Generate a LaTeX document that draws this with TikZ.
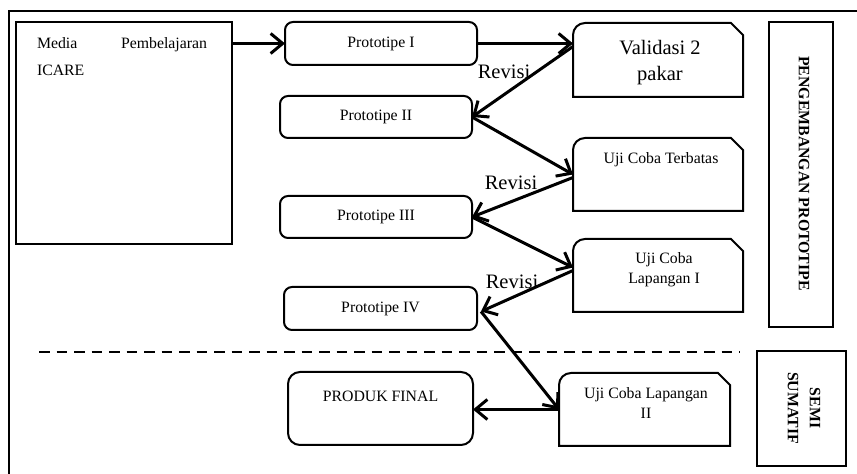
\documentclass[tikz,border=0pt]{standalone}
\usepackage{fontspec}
\setmainfont{Liberation Serif}
\usetikzlibrary{arrows.meta,calc}
\tikzset{
  frameline/.style={line width=2.2pt},
  boxline/.style={line width=2pt},
  pbox/.style={draw, line width=2pt, rounded corners=8pt, inner sep=0pt, outer sep=0pt,
    font=\fontsize{15.8}{19}\selectfont},
  plain/.style={inner sep=0pt, outer sep=0pt},
  small/.style={inner sep=0pt, font=\fontsize{15.8}{20}\selectfont, align=center},
  big/.style={inner sep=0pt, font=\fontsize{20.5}{26}\selectfont, align=center},
  flow/.style={line width=3pt, -{Straight Barb[length=12pt,width=20pt,line width=3pt]}},
  sidebox/.style={draw, line width=2.3pt, inner sep=0pt, outer sep=0pt},
  sidetext/.style={inner sep=0pt, rotate=-90, font=\bfseries\fontsize{15.8}{22}\selectfont, align=center}
}
\newcommand\snipbox[1]{%
  \draw[boxline] (#1.south west) -- ([yshift=-12pt]#1.north west)
    arc[start angle=180,end angle=90,radius=12pt]
    -- ([xshift=-12pt]#1.north east) -- ([yshift=-12pt]#1.north east)
    -- (#1.south east) -- cycle;}
\begin{document}
\begin{tikzpicture}[x=1pt,y=1pt]
\useasboundingbox (0,0) rectangle (857,474);
% outer frame
\draw[frameline] (9,-20) -- (9,463) -- (880,463);
% Media box
\node[draw, line width=2.3pt, plain, minimum width=216pt, minimum height=222pt] (media) at (124,341) {};
\node[plain, anchor=north west, text width=170pt, align=justify,
  font=\fontsize{15.8}{27}\selectfont] (mediatext) at (37,436) {Media Pembelajaran ICARE};
% prototype boxes
\node[pbox, minimum width=192pt, minimum height=43pt] (p1) at (381,430.5) {Prototipe I};
\node[pbox, minimum width=192pt, minimum height=42pt] (p2) at (376,357) {Prototipe II};
\node[pbox, minimum width=192pt, minimum height=42pt] (p3) at (376,257) {Prototipe III};
\node[pbox, minimum width=193pt, minimum height=43pt] (p4) at (380.5,165.5) {Prototipe IV};
\node[draw, line width=2pt, rounded corners=12pt, plain, minimum width=185pt, minimum height=73pt] (prod) at (380.5,65.5) {};
\node[small] (prodtext) at (380.5,78) {PRODUK FINAL};
% snipped boxes
\node[plain, minimum width=170pt, minimum height=74pt] (val) at (658,414) {};
\snipbox{val}
\node[big] (valtext) at (660,411) {Validasi 2\\pakar};
\node[plain, minimum width=170pt, minimum height=73pt] (terb) at (658,299.5) {};
\snipbox{terb}
\node[small] (terbtext) at (661,314) {Uji Coba Terbatas};
\node[plain, minimum width=170pt, minimum height=73pt] (lap1) at (658,198.5) {};
\snipbox{lap1}
\node[small] (lap1text) at (664,204) {Uji Coba\\Lapangan I};
\node[plain, minimum width=171pt, minimum height=73pt] (lap2) at (644.5,64.5) {};
\snipbox{lap2}
\node[small] (lap2text) at (646,71) {Uji Coba Lapangan\\II};
% side boxes
\node[sidebox, minimum width=64pt, minimum height=305pt] (pengbox) at (801,299.5) {};
\node[sidetext] (pengtext) at (804,300.5) {PENGEMBANGAN PROTOTIPE};
\node[sidebox, minimum width=89pt, minimum height=115pt] (semibox) at (801.5,65.5) {};
\node[sidetext] (semitext) at (804,66) {SEMI\\SUMATIF};
% dashed separator
\coordinate (dashL) at (39,122);
\coordinate (dashR) at (740,122);
\draw[line width=2.5pt, dash pattern=on 10.5pt off 7pt] (dashL) -- (dashR);
% connectors
\draw[flow] (p1.west -| media.east) -- (p1.west);
\coordinate (valin) at (p1.east -| val.west);
\draw[flow] (p1.east) -- (valin);
\draw[flow] ([yshift=-3pt]valin) -- (p2.east);
\draw[flow] (p2.east) -- (terb.west);
\draw[flow] ([yshift=-3pt]terb.west) -- (p3.east);
\draw[flow] (p3.east) -- ([yshift=8pt]lap1.west);
\draw[flow] ([yshift=5pt]lap1.west) -- ([xshift=4pt,yshift=-3pt]p4.east);
\draw[flow] ([xshift=4pt,yshift=-3pt]p4.east) -- (lap2.west);
\draw[flow] (lap2.west) -- (prod.east |- lap2.west);
% Revisi labels
\node[big, anchor=base] (rev1) at (504,395) {Revisi};
\node[big, anchor=base] (rev2) at (511,284) {Revisi};
\node[big, anchor=base] (rev3) at (512,185) {Revisi};
\end{tikzpicture}
\end{document}
